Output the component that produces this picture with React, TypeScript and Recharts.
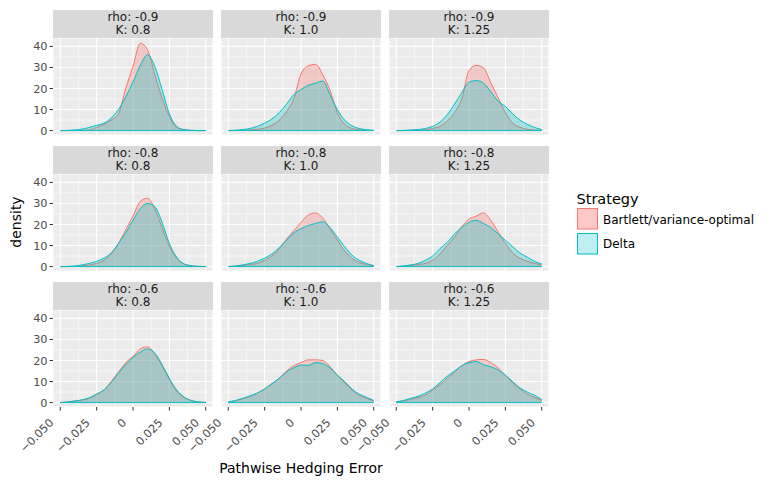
import React from "react";
import { AreaChart, Area, XAxis, YAxis, CartesianGrid, ReferenceLine } from "recharts";

// hedging error grid (x) shared by every panel
const hedgeError = [
  -0.05, -0.045, -0.04, -0.035, -0.03, -0.025, -0.02, -0.015, -0.01, -0.005, 0,
  0.005, 0.01, 0.015, 0.02, 0.025, 0.03, 0.035, 0.04, 0.045, 0.05,
];

const rhoLabels = ["-0.9", "-0.8", "-0.6"];
const kLabels = ["0.8", "1.0", "1.25"];

const xTicks = [-0.05, -0.025, 0, 0.025, 0.05];
const xTickLabels = ["\u22120.050", "\u22120.025", "0", "0.025", "0.050"];
const xMinor = [-0.0375, -0.0125, 0.0125, 0.0375];
const yTicks = [0, 10, 20, 30, 40];
const yMinor = [5, 15, 25, 35];

// densities, Bartlett/variance-optimal
const bvoR09K08 = [0, 0, 0, 0.1, 0.3, 1.5, 3, 5, 8, 20, 30.5, 41.5, 38.4, 26.5, 15.4, 6.7, 1.5, 0.5, 0.1, 0, 0];
const bvoR09K10 = [0, 0, 0.1, 0.3, 0.6, 1.2, 2.5, 5, 9, 15, 27, 30.8, 31.5, 26.5, 19, 8.5, 3, 1, 0.4, 0.1, 0];
const bvoR09K125 = [0, 0, 0.1, 0.2, 0.4, 1, 2, 4.5, 8.5, 15, 28.5, 31, 29.8, 22.7, 15.7, 8.6, 3.6, 1.6, 0.6, 0.3, 0.1];
const bvoR08K08 = [0, 0, 0.1, 0.3, 0.8, 1.5, 3, 6, 11, 17.5, 24, 31, 32.5, 27.5, 18.5, 9.5, 4, 1.2, 0.4, 0.1, 0];
const bvoR08K10 = [0, 0.2, 0.5, 1, 1.5, 3, 5, 8.5, 13, 17, 21, 24.5, 25.5, 23, 18, 12.5, 7.5, 4, 2, 1, 0.3];
const bvoR08K125 = [0, 0.2, 0.5, 1, 1.5, 3, 6, 10, 14, 19, 22.5, 24, 25.5, 22, 16.5, 11, 6.5, 4, 2.5, 1.5, 0.8];
const bvoR06K08 = [0, 0.3, 0.8, 1.2, 2, 4, 6, 10, 14.5, 19, 22, 25.5, 26.5, 23, 17.5, 11, 5.5, 2.5, 1, 0.3, 0.1];
const bvoR06K10 = [0.3, 0.8, 1.8, 3, 4.5, 6.5, 9, 11.5, 15, 17.5, 19, 20.3, 20.3, 20, 17, 13, 9.5, 6, 3.5, 2, 0.8];
const bvoR06K125 = [0.3, 0.8, 1.5, 2.5, 3.5, 6, 8.5, 11.5, 14.5, 17.5, 19.5, 20.3, 20.5, 19, 16.5, 13, 9.5, 6.5, 4, 2.5, 1];

// Delta
const deltaR09K08 = [0, 0.1, 0.3, 0.7, 1.5, 2.5, 3.5, 6, 10, 16, 23, 31, 36, 30.5, 19.5, 8, 2, 0.4, 0.1, 0, 0];
const deltaR09K10 = [0, 0.2, 0.5, 1, 2, 3.5, 5.5, 8.5, 12.5, 17, 19.5, 21.5, 22.5, 23.5, 17, 10, 5, 2.3, 1, 0.4, 0.1];
const deltaR09K125 = [0, 0.1, 0.3, 0.5, 1, 2, 4, 7.5, 12.5, 18, 23, 23.8, 22.5, 18.5, 14, 11.5, 8, 5, 3, 1.5, 0.5];
const deltaR08K08 = [0, 0.1, 0.3, 0.8, 1.5, 2.5, 4, 6.5, 11, 16, 22, 27.5, 30, 28.5, 21, 11, 4.5, 1.3, 0.4, 0.1, 0];
const deltaR08K10 = [0, 0.3, 0.8, 1.5, 2.5, 4, 6, 9, 12.5, 16, 18, 19.5, 20.5, 21.3, 18.5, 14, 9.5, 5.5, 3, 1.5, 0.5];
const deltaR08K125 = [0, 0.3, 0.8, 1.5, 3, 5, 8.5, 11.5, 15.5, 18.5, 21, 22, 20.5, 18.5, 15.5, 12.5, 9.5, 6.5, 4.5, 2.5, 1.3];
const deltaR06K08 = [0, 0.3, 0.7, 1.3, 2.3, 4, 6, 9.5, 14, 18, 21.5, 24, 25.5, 23.5, 18, 11.5, 6, 2.7, 1, 0.3, 0.1];
const deltaR06K10 = [0.3, 1, 2, 3.2, 4.6, 6.5, 9, 11.5, 14.5, 16.5, 17.8, 17.7, 19, 18.5, 16.5, 13, 10, 6.5, 4, 2.5, 1];
const deltaR06K125 = [0.3, 1, 2, 3, 4.5, 6.5, 9.5, 12.5, 15, 17.5, 19, 19.5, 18, 17, 15.5, 13, 10, 7, 5, 3.5, 1.5];

const bvoGrid = [
  [bvoR09K08, bvoR09K10, bvoR09K125],
  [bvoR08K08, bvoR08K10, bvoR08K125],
  [bvoR06K08, bvoR06K10, bvoR06K125],
];
const deltaGrid = [
  [deltaR09K08, deltaR09K10, deltaR09K125],
  [deltaR08K08, deltaR08K10, deltaR08K125],
  [deltaR06K08, deltaR06K10, deltaR06K125],
];

const RED = "#F8766D";
const BLUE = "#00BFC4";
const FONT = "DejaVu Sans";
const TICK_COLOR = "#4d4d4d";

const COL_X = [53, 221, 389];
const STRIP_Y = [10, 146, 282];
const STRIP_H = 27.5;
const PANEL_W = 160;
const PANEL_H = 97;
const LEFT_PAD = 45;

function RotatedTick(props: any) {
  const { x, y, payload } = props;
  const i = xTicks.findIndex((t) => Math.abs(t - payload.value) < 1e-9);
  const tx = x - 6;
  const ty = y + 13;
  return (
    <text
      x={tx}
      y={ty}
      transform={`rotate(-45 ${tx} ${ty})`}
      textAnchor="end"
      fontSize={11.3}
      fontFamily={FONT}
      fill={TICK_COLOR}
    >
      {i >= 0 ? xTickLabels[i] : ""}
    </text>
  );
}

function Panel({ row, col }: { row: number; col: number }) {
  const showY = col === 0;
  const showX = row === 2;
  const data = hedgeError.map((x, i) => ({
    x,
    bvo: bvoGrid[row][col][i],
    delta: deltaGrid[row][col][i],
  }));
  // room under hidden x axes so the "0" tick label is not clipped
  const bottomPad = showX ? 0 : 7;
  const height = PANEL_H + (showX ? 60 : bottomPad);

  return (
    <div
      style={{
        position: "absolute",
        left: COL_X[col] - LEFT_PAD,
        top: STRIP_Y[row] + STRIP_H,
      }}
    >
      <AreaChart
        width={PANEL_W + LEFT_PAD}
        height={height}
        data={data}
        margin={{ top: 0, right: 0, bottom: bottomPad, left: showY ? 0 : LEFT_PAD }}
      >
        <CartesianGrid
          fill="#ebebeb"
          stroke="#ffffff"
          strokeWidth={0.55}
          horizontalValues={yMinor}
          verticalValues={xMinor}
        />
        <CartesianGrid stroke="#ffffff" strokeWidth={1.1} />
        <XAxis
          type="number"
          dataKey="x"
          domain={[-0.055, 0.055]}
          ticks={xTicks}
          interval={0}
          allowDataOverflow
          hide={!showX}
          height={60}
          axisLine={false}
          tickSize={3.5}
          tickMargin={0}
          tickLine={{ stroke: "#333333" }}
          tick={<RotatedTick />}
        />
        <YAxis
          type="number"
          domain={[-2.1, 44]}
          ticks={yTicks}
          interval={0}
          allowDataOverflow
          hide={!showY}
          width={LEFT_PAD}
          axisLine={false}
          tickSize={3.5}
          tickMargin={2}
          tickLine={{ stroke: "#333333" }}
          tick={{ fontSize: 11.3, fontFamily: FONT, fill: TICK_COLOR }}
        />
        <Area
          type="monotone"
          dataKey="bvo"
          stroke={RED}
          strokeWidth={1}
          fill={RED}
          fillOpacity={0.3}
          dot={false}
          activeDot={false}
          isAnimationActive={false}
        />
        <Area
          type="monotone"
          dataKey="delta"
          stroke={BLUE}
          strokeWidth={1}
          fill={BLUE}
          fillOpacity={0.3}
          dot={false}
          activeDot={false}
          isAnimationActive={false}
        />
        <ReferenceLine
          segment={[
            { x: -0.05, y: 0 },
            { x: 0.05, y: 0 },
          ]}
          stroke={BLUE}
          strokeWidth={1}
        />
      </AreaChart>
    </div>
  );
}

function Strip({ row, col }: { row: number; col: number }) {
  return (
    <div
      style={{
        position: "absolute",
        left: COL_X[col],
        top: STRIP_Y[row],
        width: PANEL_W,
        height: STRIP_H,
        background: "#d9d9d9",
        color: "#1a1a1a",
        fontSize: 12,
        lineHeight: "13px",
        paddingTop: 1,
        boxSizing: "border-box",
        textAlign: "center",
        fontFamily: FONT,
      }}
    >
      <div>rho: {rhoLabels[row]}</div>
      <div>K: {kLabels[col]}</div>
    </div>
  );
}

export default function App() {
  const cells: { row: number; col: number }[] = [];
  for (let r = 0; r < 3; r++) for (let c = 0; c < 3; c++) cells.push({ row: r, col: c });

  return (
    <div
      style={{
        position: "absolute",
        left: 0,
        top: 0,
        width: 784,
        height: 487,
        background: "#ffffff",
        fontFamily: FONT,
        overflow: "hidden",
      }}
    >
      <svg width={784} height={487} style={{ position: "absolute", left: 0, top: 0 }}>
        <text
          x={21}
          y={222}
          transform="rotate(-90 21 222)"
          textAnchor="middle"
          fontSize={14}
          fontFamily={FONT}
          fill="#000"
        >
          density
        </text>
        <text x={301} y={473} textAnchor="middle" fontSize={14} fontFamily={FONT} fill="#000">
          Pathwise Hedging Error
        </text>
        <text x={576.5} y={203.5} fontSize={14.5} fontFamily={FONT} fill="#000">
          Strategy
        </text>
        <rect x={577.5} y={208.5} width={20} height={20.5} fill={RED} fillOpacity={0.4} stroke={RED} strokeWidth={1} />
        <text x={603} y={223.5} fontSize={12} fontFamily={FONT} fill="#000">
          Bartlett/variance-optimal
        </text>
        <rect x={577.5} y={233.5} width={20} height={20.5} fill={BLUE} fillOpacity={0.25} stroke={BLUE} strokeWidth={1} />
        <text x={603} y={248} fontSize={12} fontFamily={FONT} fill="#000">
          Delta
        </text>
      </svg>
      {cells.map((c) => (
        <Strip key={`s${c.row}${c.col}`} row={c.row} col={c.col} />
      ))}
      {cells.map((c) => (
        <Panel key={`p${c.row}${c.col}`} row={c.row} col={c.col} />
      ))}
    </div>
  );
}
